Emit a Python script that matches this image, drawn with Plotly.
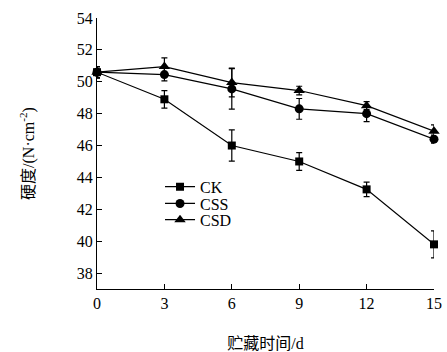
import plotly.graph_objects as go

days = [0, 3, 6, 9, 12, 15]
ck = [50.6, 48.9, 46.0, 45.0, 43.25, 39.8]
ck_err = [0.35, 0.55, 0.98, 0.56, 0.45, 0.85]
css = [50.6, 50.45, 49.55, 48.3, 48.0, 46.4]
css_err = [0.35, 0.4, 1.27, 0.65, 0.5, 0.25]
csd = [50.6, 50.95, 49.95, 49.45, 48.5, 46.9]
csd_err = [0.35, 0.55, 0.9, 0.27, 0.25, 0.4]
names = ["CK", "CSS", "CSD"]
y_ticks = [38, 40, 42, 44, 46, 48, 50, 52, 54]
x_ticks = [0, 3, 6, 9, 12, 15]

font = "Liberation Serif"
cjk = "Liberation Serif, Noto Sans CJK SC"

fig = go.Figure()
for name, vals, errs, sym, size, lg in [
    (names[0], ck, ck_err, "square", 8, "legend"),
    (names[1], css, css_err, "circle", 9, "legend2"),
    (names[2], csd, csd_err, "triangle-up", 10, "legend3"),
]:
    fig.add_trace(go.Scatter(
        x=days, y=vals, name=name, mode="lines+markers",
        line=dict(color="black", width=1.2),
        marker=dict(symbol=sym, size=size, color="black"),
        error_y=dict(type="data", array=errs, visible=True, color="black", thickness=1.2, width=3),
        cliponaxis=False, legend=lg,
    ))

def leg(y):
    return dict(x=0.187, y=y, xanchor="left", yanchor="top",
                bgcolor="rgba(0,0,0,0)", font=dict(size=16, family=font),
                itemwidth=30)

fig.update_layout(
    width=447, height=352,
    margin=dict(l=97, r=13, t=18, b=63, autoexpand=False),
    plot_bgcolor="white", paper_bgcolor="white",
    font=dict(family=font, size=16, color="black"),
    showlegend=True,
    legend=leg(0.440), legend2=leg(0.378), legend3=leg(0.318),
    xaxis=dict(range=[0, 15], tickvals=x_ticks, ticks="inside", ticklen=5,
               showline=True, linecolor="black", linewidth=1.2, showgrid=False,
               zeroline=False, tickcolor="black", tickfont=dict(family=font, size=16),
               automargin=False,
               title=dict(text="贮藏时间/d", font=dict(size=16, family=cjk), standoff=34)),
    yaxis=dict(range=[37, 54], tickvals=y_ticks, ticks="inside", ticklen=5,
               showline=True, linecolor="black", linewidth=1.2, showgrid=False,
               zeroline=False, tickcolor="black", tickfont=dict(family=font, size=16),
               automargin=False,
               title=dict(text="硬度/(N·cm<sup>-2</sup>)", font=dict(size=16, family=cjk), standoff=38)),
)
fig.write_html("out.html")
